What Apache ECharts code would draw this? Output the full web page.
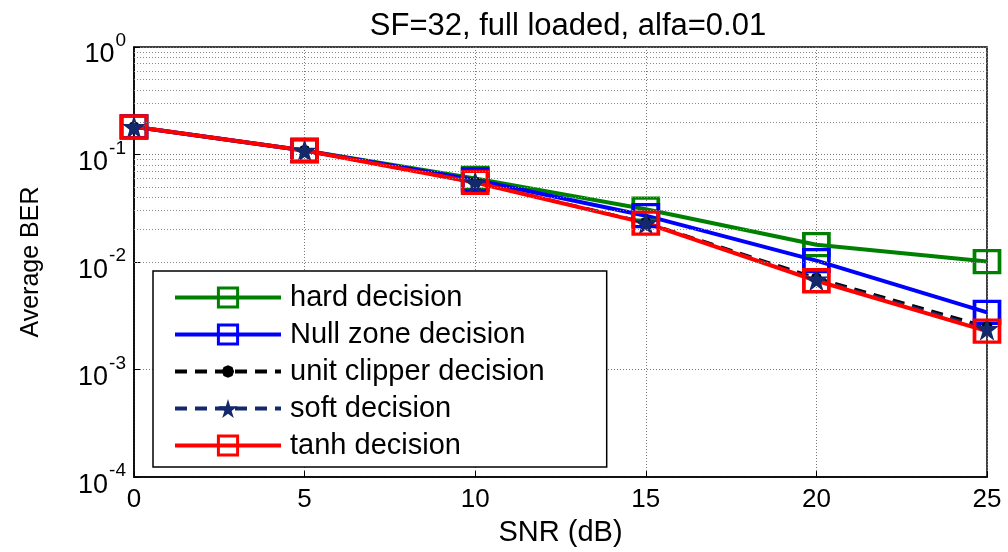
<!DOCTYPE html>
<html>
<head>
<meta charset="utf-8">
<title>SF=32, full loaded, alfa=0.01</title>
<script src="https://cdn.jsdelivr.net/npm/echarts@6/dist/echarts.min.js"></script>
<style>
  html, body { margin: 0; padding: 0; background: #fff; }
  #main { width: 1008px; height: 552px; }
</style>
</head>
<body>
<div id="main"></div>
<script>
// SNR points (dB)
var snr = [0, 5, 10, 15, 20, 25];
// average BER per decision type
var hardDecision = [0.181, 0.109, 0.060, 0.031, 0.0145, 0.0101];
var nullZoneDecision = [0.181, 0.109, 0.058, 0.027, 0.0103, 0.0034];
var unitClipperDecision = [0.181, 0.109, 0.055, 0.0233, 0.0071, 0.0025];
var softDecision = [0.181, 0.109, 0.055, 0.0231, 0.0069, 0.0024];
var tanhDecision = [0.181, 0.109, 0.055, 0.0230, 0.0067, 0.00228];
var xTicks = [0, 5, 10, 15, 20, 25];
var yDecades = [1e-4, 1e-3, 1e-2, 1e-1, 1];

var seriesNames = ['hard decision', 'Null zone decision', 'unit clipper decision', 'soft decision', 'tanh decision'];

var STAR = 'path://M50,0 L61,35 L98,35 L68,57 L79,91 L50,70 L21,91 L32,57 L2,35 L39,35 Z';
// octagon dot with tiny corner anchors so the icon is a bit smaller than its box
var DOT = 'path://M0,0L0.4,0L0,0.4Z M100,100L99.6,100L100,99.6Z ' +
  'M50,18 L73,27 L82,50 L73,73 L50,82 L27,73 L18,50 L27,27Z';
var FONT = "'Liberation Sans', Arial, sans-serif";

// minor grid lines of the log axis (2..9 per decade)
var minorGrid = [];
for (var d = 0; d < yDecades.length - 1; d++) {
  for (var k = 2; k <= 9; k++) minorGrid.push({ yAxis: k * yDecades[d] });
}

function pairs(ys) {
  return snr.map(function (x, i) { return [x, ys[i]]; });
}

function lineSeries(name, ys, color, opt) {
  return Object.assign({
    name: name,
    type: 'line',
    data: pairs(ys),
    clip: false,
    z: 3,
    symbol: 'rect',
    symbolSize: [25, 22],
    lineStyle: { color: color, width: 4 },
    itemStyle: { color: 'rgba(0,0,0,0)', borderColor: color, borderWidth: 3.5 },
    emphasis: { disabled: true },
    animation: false
  }, opt || {});
}

var chart = echarts.init(document.getElementById('main'));
chart.setOption({
  backgroundColor: '#fff',
  title: {
    text: 'SF=32, full loaded, alfa=0.01',
    left: 563, top: 6, textAlign: 'center',
    textStyle: { fontFamily: FONT, fontSize: 31, fontWeight: 'normal', color: '#000' }
  },
  grid: {
    left: 134, right: 21, top: 47, bottom: 69,
    show: true, borderColor: '#000', borderWidth: 1.5, backgroundColor: '#fff'
  },
  legend: {
    data: [
      { name: seriesNames[0] },
      { name: seriesNames[1] },
      { name: seriesNames[2], itemStyle: { borderWidth: 0 } },
      { name: seriesNames[3], itemStyle: { borderWidth: 0 } },
      { name: seriesNames[4] }
    ],
    orient: 'vertical',
    left: 153, top: 271,
    padding: [12, 62, 7, 20],
    itemWidth: 106, itemHeight: 24, itemGap: 8,
    backgroundColor: '#fff',
    borderColor: '#000', borderWidth: 1.5, borderRadius: 0,
    selectedMode: false,
    lineStyle: { width: 4 },
    itemStyle: { borderWidth: 3 },
    textStyle: { fontFamily: FONT, fontSize: 29, color: '#000', padding: [0, 0, 0, 4] }
  },
  xAxis: {
    type: 'value', min: 0, max: 25, interval: 5,
    name: 'SNR (dB)', nameLocation: 'middle', nameGap: 38,
    nameTextStyle: { fontFamily: FONT, fontSize: 29, color: '#000' },
    axisLine: { show: true, onZero: false, lineStyle: { color: '#000', width: 1.5 } },
    axisTick: { show: true, inside: true, length: 6, lineStyle: { color: '#000' } },
    axisLabel: {
      fontFamily: FONT, fontSize: 26, color: '#000', margin: 10,
      customValues: xTicks
    },
    splitLine: { show: true, lineStyle: { color: '#777', width: 1, type: [1, 2] } }
  },
  yAxis: {
    type: 'log', logBase: 10, min: 1e-4, max: 1,
    name: 'Average BER', nameLocation: 'middle', nameGap: 90, nameRotate: 90,
    nameTextStyle: { fontFamily: FONT, fontSize: 25, color: '#000' },
    axisLine: { show: true, lineStyle: { color: '#000', width: 1.5 } },
    axisTick: { show: true, inside: true, length: 6, lineStyle: { color: '#000' } },
    axisLabel: {
      margin: 8, color: '#000',
      formatter: function (v) {
        var e = Math.round(Math.log10(v));
        return '{b|10}{s|' + e + '}';
      },
      rich: {
        b: { fontFamily: FONT, fontSize: 27, color: '#000', padding: [16, 0, 0, 0] },
        s: { fontFamily: FONT, fontSize: 19, color: '#000', padding: [0, 0, 12, 1] }
      }
    },
    splitLine: { show: true, lineStyle: { color: '#777', width: 1, type: [1, 2] } }
  },
  series: [
    {
      name: 'minor grid', type: 'line', data: [], z: 1, silent: true,
      markLine: {
        silent: true, symbol: ['none', 'none'], animation: false,
        label: { show: false },
        lineStyle: { color: '#888', width: 1, type: [1, 2] },
        data: minorGrid
      }
    },
    lineSeries(seriesNames[0], hardDecision, '#008000'),
    lineSeries(seriesNames[1], nullZoneDecision, '#0000ff'),
    lineSeries(seriesNames[2], unitClipperDecision, '#000000', {
      symbol: DOT, symbolSize: 18,
      lineStyle: { color: '#000', width: 3, type: [12, 8] },
      itemStyle: { color: '#000', borderWidth: 0 }
    }),
    lineSeries(seriesNames[3], softDecision, '#13296b', {
      symbol: STAR, symbolSize: 24,
      lineStyle: { color: '#13296b', width: 3, type: [12, 8] },
      itemStyle: { color: '#13296b', borderWidth: 0 }
    }),
    lineSeries(seriesNames[4], tanhDecision, '#ff0000')
  ]
});
</script>
</body>
</html>
